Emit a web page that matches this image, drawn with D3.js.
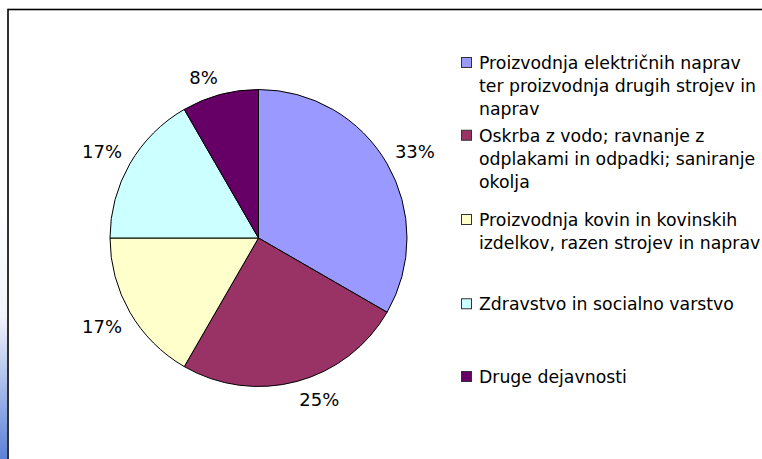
<!DOCTYPE html>
<html>
<head>
<meta charset="utf-8">
<script src="https://cdn.jsdelivr.net/npm/d3@7"></script>
<style>
  body { margin: 0; background: #fff; }
  svg { display: block; }
  text { font-family: "DejaVu Sans", sans-serif; fill: #000; }
</style>
</head>
<body>
<div id="chart"></div>
<script>
const categories = [
    "Proizvodnja električnih naprav ter proizvodnja drugih strojev in naprav",
    "Oskrba z vodo; ravnanje z odplakami in odpadki; saniranje okolja",
    "Proizvodnja kovin in kovinskih izdelkov, razen strojev in naprav",
    "Zdravstvo in socialno varstvo",
    "Druge dejavnosti"
];
const legendLines = [
    ["Proizvodnja električnih naprav", "ter proizvodnja drugih strojev in", "naprav"],
    ["Oskrba z vodo; ravnanje z", "odplakami in odpadki; saniranje", "okolja"],
    ["Proizvodnja kovin in kovinskih", "izdelkov, razen strojev in naprav"],
    ["Zdravstvo in socialno varstvo"],
    ["Druge dejavnosti"]
];
const values = [4, 3, 2, 2, 1];
const colors = ["#9999FF", "#993366", "#FFFFCC", "#CCFFFF", "#660066"];

const width = 762;
const height = 459;
const labelSize = 18;
const legendSize = 17.3;
const lineHeight = 23;

const svg = d3.select("#chart")
    .append("svg")
    .attr("width", width)
    .attr("height", height);

// blue strip at the far left
const grad = svg.append("defs").append("linearGradient")
    .attr("id", "strip")
    .attr("x1", 0).attr("y1", 0).attr("x2", 0).attr("y2", 1);
grad.append("stop").attr("offset", "0%").attr("stop-color", "#ffffff");
grad.append("stop").attr("offset", "45%").attr("stop-color", "#f2f4fb");
grad.append("stop").attr("offset", "100%").attr("stop-color", "#5b80d8");
svg.append("rect")
    .attr("x", 0).attr("y", 200)
    .attr("width", 7).attr("height", height - 200)
    .attr("fill", "url(#strip)");

// chart frame
svg.append("rect")
    .attr("x", 8).attr("y", 9.5)
    .attr("width", width + 10).attr("height", height + 10)
    .attr("fill", "#fff")
    .attr("stroke", "#000")
    .attr("stroke-width", 1.6);

const cx = 258.5, cy = 238, r = 148.5;
const total = d3.sum(values);
const pct = d3.format(".0%");

const pie = d3.pie().sort(null).value(d => d);
const arcs = pie(values);
const arc = d3.arc().innerRadius(0).outerRadius(r);

const g = svg.append("g").attr("transform", `translate(${cx},${cy})`);

g.selectAll("path")
    .data(arcs)
    .enter()
    .append("path")
    .attr("d", arc)
    .attr("fill", (d, i) => colors[i])
    .attr("stroke", "#000")
    .attr("stroke-width", 1);

// percentage labels, placed outside the slice like Excel does
const gap = 9;
g.selectAll("text.pct")
    .data(arcs)
    .enter()
    .append("text")
    .attr("class", "pct")
    .attr("font-size", labelSize)
    .each(function (d) {
        const a = (d.startAngle + d.endAngle) / 2;
        const s = Math.sin(a), c = Math.cos(a);
        const px = (r + gap) * s;
        const py = -(r + gap) * c;
        d3.select(this)
            .attr("x", px)
            .attr("y", c > 0 ? py - 1.5 : py + 16)
            .attr("text-anchor", s >= 0 ? "start" : "end")
            .text(pct(d.value / total));
    });

// legend
const legendY = d3.scalePoint()
    .domain(d3.range(values.length))
    .range([87, 378]);

const legend = svg.append("g")
    .selectAll("g")
    .data(legendLines)
    .enter()
    .append("g")
    .attr("transform", (d, i) => {
        const firstBaseline = legendY(i) + 5 - (d.length - 1) * lineHeight / 2;
        return `translate(461,${firstBaseline})`;
    });

legend.append("rect")
    .attr("x", 0.5).attr("y", -11.5)
    .attr("width", 10).attr("height", 10)
    .attr("fill", (d, i) => colors[i])
    .attr("stroke", "#333")
    .attr("stroke-width", 1);

legend.append("text")
    .attr("font-size", legendSize)
    .selectAll("tspan")
    .data(d => d)
    .enter()
    .append("tspan")
    .attr("x", 18)
    .attr("y", (d, j) => j * lineHeight)
    .text(d => d);
</script>
</body>
</html>
